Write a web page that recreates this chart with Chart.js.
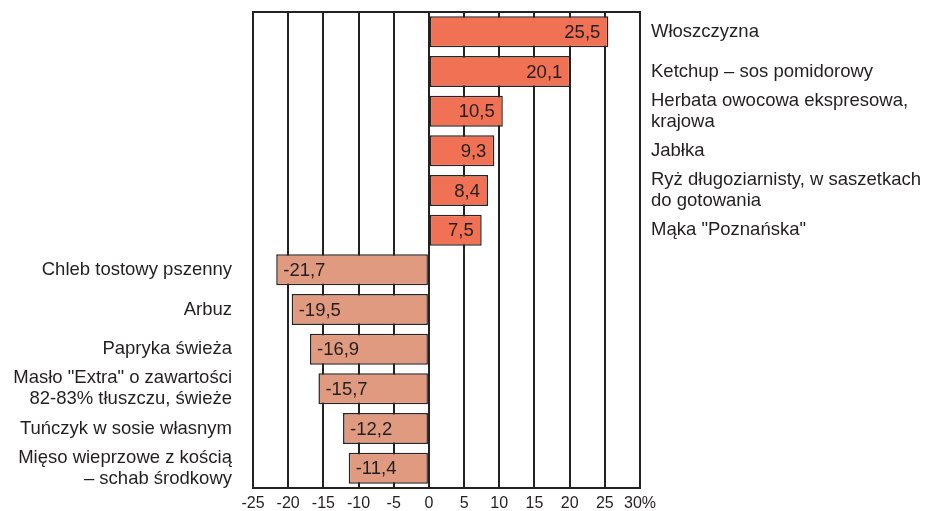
<!DOCTYPE html>
<html>
<head>
<meta charset="utf-8">
<script src="https://cdn.jsdelivr.net/npm/chart.js@4"></script>
<style>
    html, body { margin: 0; padding: 0; background: #fff; }
    #wrap { width: 927px; height: 511px; }
</style>
</head>
<body>
<div id="wrap"><canvas id="chart" width="927" height="511"></canvas></div>
<script>
// ============================================================
//  Data
// ============================================================

const categories = [
    ["Włoszczyzna"],
    ["Ketchup – sos pomidorowy"],
    ["Herbata owocowa ekspresowa,", "krajowa"],
    ["Jabłka"],
    ["Ryż długoziarnisty, w saszetkach", "do gotowania"],
    ["Mąka \"Poznańska\""],
    ["Chleb tostowy pszenny"],
    ["Arbuz"],
    ["Papryka świeża"],
    ["Masło \"Extra\" o zawartości", "82-83% tłuszczu, świeże"],
    ["Tuńczyk w sosie własnym"],
    ["Mięso wieprzowe z kością", "– schab środkowy"],
];
const values = [25.5, 20.1, 10.5, 9.3, 8.4, 7.5, -21.7, -19.5, -16.9, -15.7, -12.2, -11.4];
const xTicks = [-25, -20, -15, -10, -5, 0, 5, 10, 15, 20, 25, 30];

const COLOR = {
    up:     "#F07153",
    down:   "#DF9A80",
    border: "#2a2323",
    grid:   "#222222",
    text:   "#231f20",
};
const FONT = "'Liberation Sans', Arial, sans-serif";

// ============================================================
//  Labels plugin: category names beside bars, values inside
// ============================================================

const labelPlugin = {
    id: "barLabels",
    afterDatasetsDraw(chart) {
        const { ctx, chartArea } = chart;
        const meta = chart.getDatasetMeta(0);

        ctx.save();
        // top frame line
        ctx.strokeStyle = COLOR.grid;
        ctx.lineWidth = 2;
        ctx.beginPath();
        ctx.moveTo(chartArea.left - 1, chartArea.top);
        ctx.lineTo(chartArea.right + 1, chartArea.top);
        ctx.stroke();

        ctx.fillStyle = COLOR.text;
        ctx.font = "18.5px " + FONT;
        ctx.textBaseline = "middle";

        meta.data.forEach((bar, i) => {
            const v = values[i];
            const y = bar.y;
            const txt = v.toFixed(1).replace(".", ",");

            // value inside bar
            if (v >= 0) {
                ctx.textAlign = "right";
                ctx.fillText(txt, bar.x - 8, y + 1);
            } else {
                ctx.textAlign = "left";
                ctx.fillText(txt, bar.x + 7, y + 1);
            }

            // category name outside the plot
            const lines = categories[i];
            const lh = 21;
            const y0 = y - (lines.length - 1) * lh / 2;
            lines.forEach((ln, k) => {
                if (v >= 0) {
                    ctx.textAlign = "left";
                    ctx.fillText(ln, chartArea.right + 11, y0 + k * lh);
                } else {
                    ctx.textAlign = "right";
                    ctx.fillText(ln, chartArea.left - 21, y0 + k * lh);
                }
            });
        });
        ctx.restore();
    },
};

// ============================================================
//  Chart
// ============================================================

new Chart(document.getElementById("chart"), {
    type: "bar",
    data: {
        labels: categories.map(c => c.join(" ")),
        datasets: [{
            data: values,
            backgroundColor: values.map(v => v >= 0 ? COLOR.up : COLOR.down),
            borderColor: COLOR.border,
            borderWidth: 1.5,
            borderSkipped: false,
            barPercentage: 0.78,
            categoryPercentage: 1,
        }],
    },
    options: {
        indexAxis: "y",
        responsive: false,
        animation: false,
        layout: { padding: { left: 253, right: 287, top: 12, bottom: 0 } },
        plugins: {
            legend: { display: false },
            tooltip: { enabled: false },
        },
        scales: {
            x: {
                min: -25,
                max: 30,
                afterBuildTicks: axis => { axis.ticks = xTicks.map(v => ({ value: v })); },
                afterFit: axis => { axis.height = 23; },
                grid: { color: COLOR.grid, lineWidth: 2, drawTicks: false },
                border: { color: COLOR.grid, width: 2 },
                ticks: {
                    color: COLOR.text,
                    font: { family: FONT, size: 16 },
                    padding: 6,
                    maxRotation: 0,
                    callback: v => v === 30 ? "30%" : String(v),
                },
            },
            y: {
                display: false,
            },
        },
    },
    plugins: [labelPlugin],
});
</script>
</body>
</html>
